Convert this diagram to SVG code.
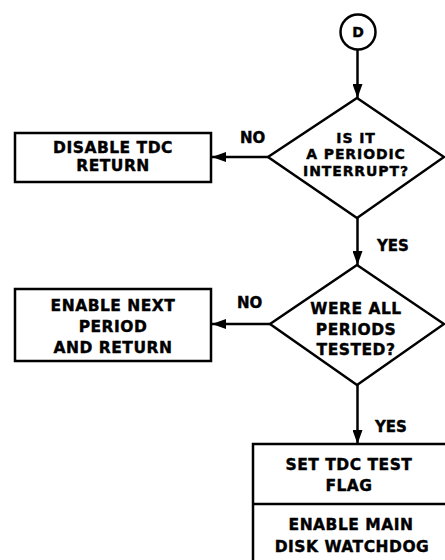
<svg xmlns="http://www.w3.org/2000/svg" width="445" height="560" viewBox="0 0 445 560">
<style>
  .s{fill:#fff;stroke:#000;stroke-width:2.5}
  .t{font-family:"DejaVu Sans","Liberation Sans",sans-serif;font-weight:bold;font-size:15.5px;letter-spacing:0.5px;text-anchor:middle;fill:#000;stroke:#000;stroke-width:0.4}
  .d1{font-size:14px;letter-spacing:0.9px}
  .l{font-family:"DejaVu Sans","Liberation Sans",sans-serif;font-weight:bold;font-size:15px;fill:#000;stroke:#000;stroke-width:0.4}
  .c{fill:none;stroke:#000;stroke-width:2.5}
</style>
<defs>
  <marker id="ah" viewBox="0 0 14 10" refX="14" refY="5" markerWidth="14" markerHeight="10" markerUnits="userSpaceOnUse" orient="auto">
    <path d="M0,0 L14,5 L0,10 Z" fill="#000"/>
  </marker>
</defs>
<rect width="445" height="560" fill="#fff"/>
<g id="connectors">
  <line class="c" x1="357.5" y1="49" x2="357.5" y2="98" marker-end="url(#ah)"/>
  <line class="c" x1="268" y1="157" x2="212" y2="157" marker-end="url(#ah)"/>
  <line class="c" x1="357.5" y1="218" x2="357.5" y2="265" marker-end="url(#ah)"/>
  <line class="c" x1="270" y1="324" x2="212" y2="324" marker-end="url(#ah)"/>
  <line class="c" x1="357.5" y1="385" x2="357.5" y2="444" marker-end="url(#ah)"/>
  <text class="l" x="240" y="143">NO</text>
  <text class="l" x="237" y="308">NO</text>
  <text class="l" x="377" y="250.5">YES</text>
  <text class="l" x="375" y="431.5">YES</text>
</g>
<g id="start">
  <circle class="s" cx="358" cy="32" r="17.5"/>
  <text class="t" x="358" y="37" style="font-size:14px;letter-spacing:0">D</text>
</g>
<g id="periodic">
  <polygon class="s" points="357,98 444,157 357,218 268,157"/>
  <text class="t d1" x="356" y="142.5">IS IT</text>
  <text class="t d1" x="356" y="159">A PERIODIC</text>
  <text class="t d1" x="356" y="175.5">INTERRUPT?</text>
</g>
<g id="disable">
  <rect class="s" x="15" y="133" width="196" height="49"/>
  <text class="t" x="113" y="152.5">DISABLE TDC</text>
  <text class="t" x="113" y="170.5">RETURN</text>
</g>
<g id="allperiods">
  <polygon class="s" points="357,265 444,324 357,385 270,324"/>
  <text class="t" x="356" y="314">WERE ALL</text>
  <text class="t" x="356" y="334.5">PERIODS</text>
  <text class="t" x="356" y="355">TESTED?</text>
</g>
<g id="enablenext">
  <rect class="s" x="15" y="289" width="196" height="72"/>
  <text class="t" x="113" y="311">ENABLE NEXT</text>
  <text class="t" x="113" y="331.5">PERIOD</text>
  <text class="t" x="113" y="352.5">AND RETURN</text>
</g>
<g id="setflag">
  <rect class="s" x="253" y="444" width="210" height="130"/>
  <line class="c" x1="253" y1="504" x2="445" y2="504"/>
  <text class="t" x="349" y="470">SET TDC TEST</text>
  <text class="t" x="349" y="490.5">FLAG</text>
  <text class="t" x="351" y="530">ENABLE MAIN</text>
  <text class="t" x="352" y="551.5">DISK WATCHDOG</text>
</g>
</svg>
